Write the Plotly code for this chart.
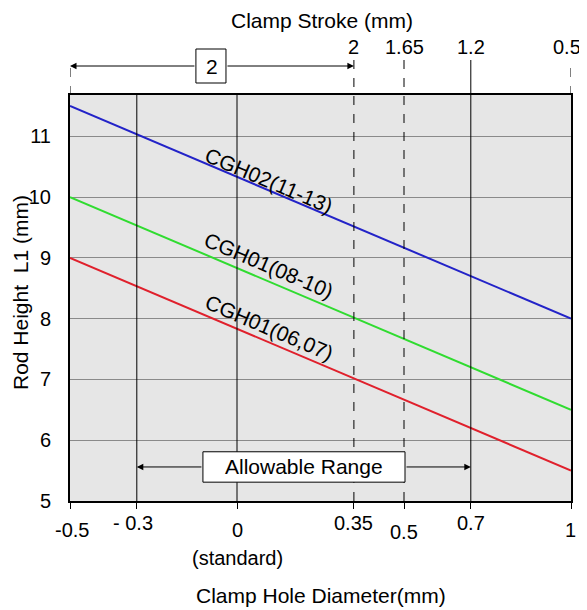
import plotly.graph_objects as go

# ---- data ----
hole_diameter = [-0.5, 1.0]
cgh02_11_13 = [11.5, 8.0]
cgh01_08_10 = [10.0, 6.5]
cgh01_06_07 = [9.0, 5.5]

series_names = ["CGH02(11-13)", "CGH01(08-10)", "CGH01(06,07)"]

bottom_tick_vals = [-0.5, -0.3, 0, 0.35, 0.5, 0.7, 1]
bottom_tick_text = ["-0.5", "- 0.3", "0", "0.35", "0.5", "0.7", "1"]

stroke_tick_vals = [0.35, 0.5, 0.7, 1]
stroke_tick_text = ["2", "1.65", "1.2", "0.5"]

y_tick_vals = [5, 6, 7, 8, 9, 10, 11]

allowable_range = [-0.3, 0.7]
stroke_range = [-0.5, 0.35]

# ---- style ----
FONT = "Liberation Sans, Arial, sans-serif"
FS = 20
FT = 21
colors = ["#2323c8", "#30dc30", "#e0202c"]
OFF = 8  # page body margin
PAGE_W, PAGE_H = 587, 610
W, H = PAGE_W - OFF, PAGE_H - OFF
# plot area in page pixels
PX0, PX1, PY0, PY1 = 70, 571, 95, 501
ML, MR, MT, MB = PX0 - OFF, PAGE_W - PX1, PY0 - OFF, PAGE_H - PY1
PW = PX1 - PX0
PH = PY1 - PY0
YMIN, YMAX = 5, 11.68


def py(page_y):
    """paper y from page pixel y."""
    return (PY1 - page_y) / PH


def px(page_x):
    return (page_x - PX0) / PW


fig = go.Figure()
for vals, name, c in zip([cgh02_11_13, cgh01_08_10, cgh01_06_07], series_names, colors):
    fig.add_trace(go.Scatter(x=hole_diameter, y=vals, mode="lines", name=name,
                             line=dict(color=c, width=2), showlegend=False, hoverinfo="skip"))

shapes = []
annotations = []

# vertical reference lines
solid_lines = [-0.3, 0, 0.7]
dashed_lines = [0.35, 0.5]
for xv in solid_lines:
    top = py(60) if xv in stroke_tick_vals else 1
    shapes.append(dict(type="line", xref="x", yref="paper", x0=xv, x1=xv, y0=0, y1=top,
                       line=dict(color="black", width=1)))
for xv in dashed_lines:
    shapes.append(dict(type="line", xref="x", yref="paper", x0=xv, x1=xv, y0=0, y1=py(60),
                       line=dict(color="black", width=1, dash="dash")))
for xv in [-0.5, 1]:
    shapes.append(dict(type="line", xref="x", yref="paper", x0=xv, x1=xv, y0=1, y1=py(60),
                       line=dict(color="black", width=1, dash="dash")))

# bottom tick labels
low = {"- 0.3", "0.35", "0.7"}
for v, t in zip(bottom_tick_vals, bottom_tick_text):
    ypx = 523 if t in low else 530
    if t == "0.5":
        ypx = 532
    xs = -4 if t == "- 0.3" else 0
    if t == "1":
        xs = -1
    if t == "-0.5":
        xs = 2
    annotations.append(dict(x=v, y=py(ypx), xref="x", yref="paper", text=t, showarrow=False,
                            xanchor="center", yanchor="middle", xshift=xs,
                            font=dict(family=FONT, size=FS, color="black")))
annotations.append(dict(x=0, y=py(558), xref="x", yref="paper", text="(standard)", showarrow=False,
                        xanchor="center", yanchor="middle", font=dict(family=FONT, size=FS, color="black")))
annotations.append(dict(x=px(321), y=py(595), xref="paper", yref="paper",
                        text="Clamp Hole Diameter(mm)", showarrow=False, xanchor="center", yanchor="middle",
                        font=dict(family=FONT, size=FT, color="black")))

# top tick labels
for v, t in zip(stroke_tick_vals, stroke_tick_text):
    xs = -4 if t == "0.5" else 0
    annotations.append(dict(x=v, y=py(47), xref="x", yref="paper", text=t, showarrow=False,
                            xanchor="center", yanchor="middle", xshift=xs,
                            font=dict(family=FONT, size=FS, color="black")))
annotations.append(dict(x=px(322), y=py(20), xref="paper", yref="paper",
                        text="Clamp Stroke (mm)", showarrow=False, xanchor="center", yanchor="middle",
                        font=dict(family=FONT, size=FT, color="black")))

# y title
annotations.append(dict(x=px(20), y=py(293), xref="paper", yref="paper",
                        text="Rod Height\u00a0 L1 (mm)", textangle=-90, showarrow=False,
                        xanchor="center", yanchor="middle", font=dict(family=FONT, size=FT, color="black")))

# series labels
label_pos = [(0.096, 10.28), (0.096, 8.88), (0.096, 7.85)]
for (lx, ly), name in zip(label_pos, series_names):
    annotations.append(dict(x=lx, y=ly, xref="x", yref="y", text=name, textangle=23, showarrow=False,
                            xanchor="center", yanchor="middle", font=dict(family=FONT, size=FT, color="black")))

# Allowable range box + arrows
ar_y = 5.56
bx0, bx1 = -0.102, 0.503
shapes.append(dict(type="rect", xref="x", yref="y", x0=bx0, x1=bx1, y0=5.31, y1=5.81,
                   line=dict(color="black", width=1), fillcolor="white", layer="above"))
annotations.append(dict(x=sum(allowable_range) / 2, y=ar_y, xref="x", yref="y", text="Allowable Range",
                        showarrow=False, xanchor="center", yanchor="middle",
                        font=dict(family=FONT, size=FT, color="black")))
annotations.append(dict(x=allowable_range[0], y=ar_y, xref="x", yref="y", ax=bx0, ay=ar_y, axref="x", ayref="y",
                        text="", showarrow=True, arrowhead=2, arrowsize=1.3, arrowwidth=1, arrowcolor="black"))
annotations.append(dict(x=allowable_range[1], y=ar_y, xref="x", yref="y", ax=bx1, ay=ar_y, axref="x", ayref="y",
                        text="", showarrow=True, arrowhead=2, arrowsize=1.3, arrowwidth=1, arrowcolor="black"))

# stroke dimension arrow with box "2"
sy = py(66)
sb0, sb1 = -0.123, -0.033
shapes.append(dict(type="rect", xref="x", yref="paper", x0=sb0, x1=sb1, y0=py(83), y1=py(49),
                   line=dict(color="black", width=1), fillcolor="white"))
annotations.append(dict(x=sum(stroke_range) / 2, y=sy, xref="x", yref="paper", text="2", showarrow=False,
                        xanchor="center", yanchor="middle", font=dict(family=FONT, size=FT, color="black")))
annotations.append(dict(x=stroke_range[0], y=sy, xref="x", yref="paper", ax=sb0, ay=0, axref="x", ayref="pixel",
                        text="", showarrow=True, arrowhead=2, arrowsize=1.3, arrowwidth=1, arrowcolor="black"))
annotations.append(dict(x=stroke_range[1], y=sy, xref="x", yref="paper", ax=sb1, ay=0, axref="x", ayref="pixel",
                        text="", showarrow=True, arrowhead=2, arrowsize=1.3, arrowwidth=1, arrowcolor="black"))

fig.update_layout(
    width=W, height=H,
    margin=dict(l=ML, r=MR, t=MT, b=MB),
    paper_bgcolor="white", plot_bgcolor="#e6e6e6",
    font=dict(family=FONT, size=FS, color="black"),
    shapes=shapes, annotations=annotations,
    xaxis=dict(range=[-0.5, 1], showgrid=False, zeroline=False, showticklabels=False,
               tickvals=bottom_tick_vals, ticks="outside", ticklen=6, tickcolor="black",
               showline=True, linecolor="black", linewidth=2, mirror=True),
    yaxis=dict(range=[YMIN, YMAX], tickvals=y_tick_vals, showgrid=True, gridcolor="#8a8a8a", gridwidth=1,
               zeroline=False, ticks="", ticklabelstandoff=13,
               tickfont=dict(family=FONT, size=FS, color="black"),
               showline=True, linecolor="black", linewidth=2, mirror=True),
)

fig.write_html("out.html")
